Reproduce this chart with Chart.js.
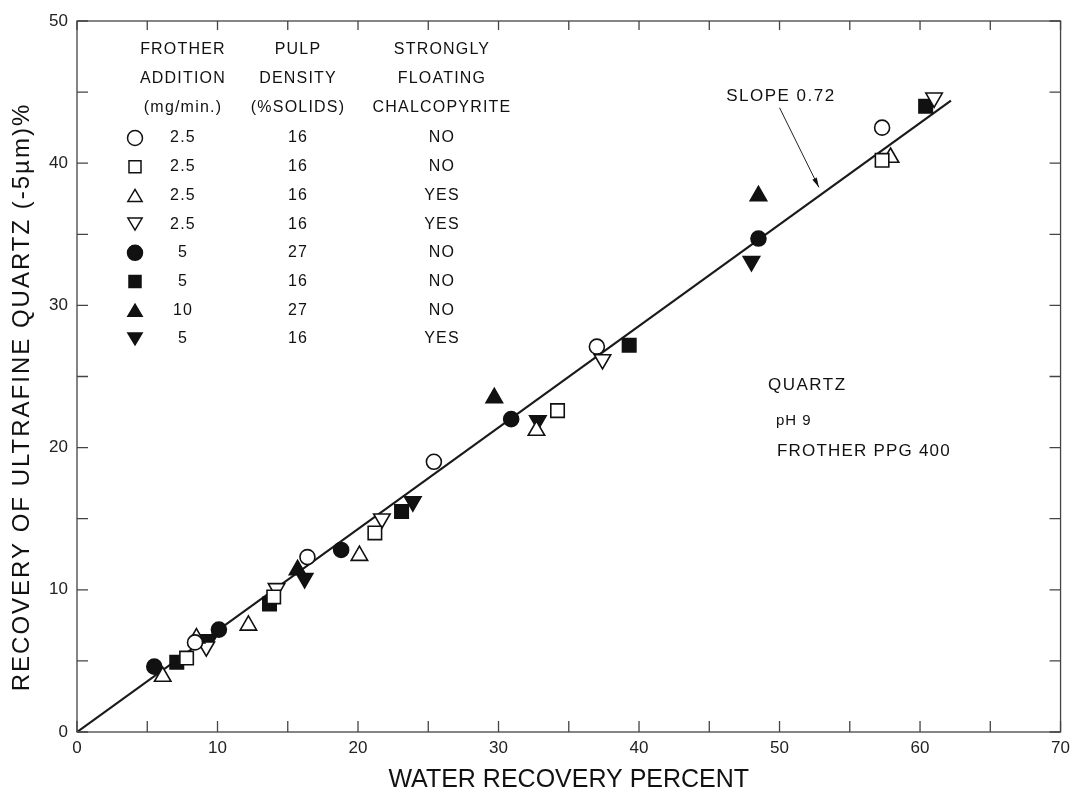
<!DOCTYPE html>
<html>
<head>
<meta charset="utf-8">
<script src="https://cdn.jsdelivr.net/npm/chart.js@4.4.1/dist/chart.umd.min.js"></script>
<style>
html, body { margin: 0; padding: 0; background: #fff; }
#wrap { width: 1076px; height: 795px; }
</style>
</head>
<body>
<div id="wrap"><canvas id="chart" width="1076" height="795"></canvas></div>
<script>
// Axis ranges
const xMin = 0, xMax = 70, yMin = 0, yMax = 50;
const tickStep = 5;

// Series (water recovery %, quartz recovery %)
const openCircleX = [8.4, 16.4, 25.4, 37.0, 57.3];
const openCircleY = [6.3, 12.3, 19.0, 27.1, 42.5];
const openSquareX = [7.8, 14.0, 21.2, 34.2, 57.3];
const openSquareY = [5.2, 9.5, 14.0, 22.6, 40.2];
const openTriUpX = [6.1, 8.5, 12.2, 20.1, 32.7, 57.9];
const openTriUpY = [3.9, 6.6, 7.5, 12.4, 21.2, 40.4];
const openTriDownX = [9.2, 14.2, 21.7, 37.4, 61.0];
const openTriDownY = [6.0, 10.1, 15.0, 26.2, 44.6];
const filledCircleX = [5.5, 10.1, 18.8, 30.9, 48.5];
const filledCircleY = [4.6, 7.2, 12.8, 22.0, 34.7];
const filledSquareX = [7.1, 13.7, 23.1, 39.3, 60.4];
const filledSquareY = [4.9, 9.0, 15.5, 27.2, 44.0];
const filledTriUpX = [15.7, 29.7, 48.5];
const filledTriUpY = [11.4, 23.5, 37.7];
const filledTriDownX = [9.4, 16.2, 23.9, 32.8, 48.0];
const filledTriDownY = [6.5, 10.8, 16.2, 21.9, 33.1];

// Fitted line end points
const fitX = [0, 62.2];
const fitY = [0, 44.4];

// Legend table
const legendFrother = ['2.5', '2.5', '2.5', '2.5', '5', '5', '10', '5'];
const legendPulp = ['16', '16', '16', '16', '27', '16', '27', '16'];
const legendChalco = ['NO', 'NO', 'YES', 'YES', 'NO', 'NO', 'NO', 'YES'];

const FONT = '"Liberation Sans", Arial, Helvetica, sans-serif';
const yTitle = 'RECOVERY OF ULTRAFINE QUARTZ (-5µm)%';

function pts(xs, ys) {
    return xs.map((x, i) => ({ x: x, y: ys[i] }));
}

// marker styles in the same order as the legend rows
const markers = [
    { style: 'circle', rot: 0, fill: '#fff', r: 7.5 },
    { style: 'rect', rot: 0, fill: '#fff', r: 9.5 },
    { style: 'triangle', rot: 0, fill: '#fff', r: 9.5 },
    { style: 'triangle', rot: 180, fill: '#fff', r: 9.5 },
    { style: 'circle', rot: 0, fill: '#111', r: 7.5 },
    { style: 'rect', rot: 0, fill: '#111', r: 9.5 },
    { style: 'triangle', rot: 0, fill: '#111', r: 9.5 },
    { style: 'triangle', rot: 180, fill: '#111', r: 9.5 }
];
const seriesData = [
    pts(openCircleX, openCircleY),
    pts(openSquareX, openSquareY),
    pts(openTriUpX, openTriUpY),
    pts(openTriDownX, openTriDownY),
    pts(filledCircleX, filledCircleY),
    pts(filledSquareX, filledSquareY),
    pts(filledTriUpX, filledTriUpY),
    pts(filledTriDownX, filledTriDownY)
];

const datasets = seriesData.map((d, i) => ({
    type: 'scatter',
    data: d,
    pointStyle: markers[i].style,
    rotation: markers[i].rot,
    pointRadius: markers[i].r,
    pointHoverRadius: markers[i].r,
    backgroundColor: markers[i].fill,
    borderColor: '#111',
    pointBorderWidth: 1.6,
    order: 1
}));

datasets.push({
    type: 'line',
    data: pts(fitX, fitY),
    borderColor: '#1a1a1a',
    borderWidth: 2.2,
    pointRadius: 0,
    fill: false,
    order: 10
});

// own marker drawing for the legend table
function drawMarker(ctx, m, x, y, r) {
    ctx.save();
    ctx.fillStyle = m.fill;
    ctx.strokeStyle = '#111';
    ctx.lineWidth = 1.5;
    ctx.beginPath();
    if (m.style === 'circle') {
        ctx.arc(x, y, r, 0, Math.PI * 2);
    } else if (m.style === 'rect') {
        const s = r * 0.8;
        ctx.rect(x - s, y - s, 2 * s, 2 * s);
    } else {
        const dir = m.rot ? -1 : 1;
        const h = r * 1.6;
        ctx.moveTo(x, y - dir * h / 2);
        ctx.lineTo(x + r * 0.95, y + dir * h / 2);
        ctx.lineTo(x - r * 0.95, y + dir * h / 2);
        ctx.closePath();
    }
    ctx.fill();
    ctx.stroke();
    ctx.restore();
}

// frame, inward ticks, notes and legend table
const decorations = {
    id: 'decorations',
    afterDraw(chart) {
        const ctx = chart.ctx;
        const a = chart.chartArea;
        const xs = chart.scales.x, ys = chart.scales.y;
        ctx.save();

        // frame
        ctx.strokeStyle = '#444';
        ctx.lineWidth = 1.3;
        ctx.strokeRect(a.left, a.top, a.right - a.left, a.bottom - a.top);

        // inward ticks
        ctx.beginPath();
        for (let v = xMin; v <= xMax; v += tickStep) {
            const px = xs.getPixelForValue(v);
            ctx.moveTo(px, a.bottom); ctx.lineTo(px, a.bottom - 11);
            ctx.moveTo(px, a.top); ctx.lineTo(px, a.top + 9);
        }
        for (let v = yMin; v <= yMax; v += tickStep) {
            const py = ys.getPixelForValue(v);
            ctx.moveTo(a.left, py); ctx.lineTo(a.left + 11, py);
            ctx.moveTo(a.right, py); ctx.lineTo(a.right - 11, py);
        }
        ctx.stroke();

        // y axis title
        ctx.fillStyle = '#111';
        ctx.save();
        ctx.translate(22, 397);
        ctx.rotate(-Math.PI / 2);
        ctx.font = '24px ' + FONT;
        ctx.letterSpacing = '2px';
        ctx.textAlign = 'center';
        ctx.textBaseline = 'middle';
        ctx.fillText(yTitle, 0, 0);
        ctx.restore();

        // slope note and arrow
        ctx.fillStyle = '#111';
        ctx.font = '17px ' + FONT;
        ctx.letterSpacing = '1.5px';
        ctx.textBaseline = 'middle';
        ctx.textAlign = 'left';
        ctx.fillText('SLOPE 0.72', xs.getPixelForValue(46.2), ys.getPixelForValue(44.7));

        const ax0 = xs.getPixelForValue(50.0), ay0 = ys.getPixelForValue(43.9);
        const ax1 = xs.getPixelForValue(52.8), ay1 = ys.getPixelForValue(38.3);
        ctx.strokeStyle = '#222';
        ctx.lineWidth = 1;
        ctx.beginPath();
        ctx.moveTo(ax0, ay0); ctx.lineTo(ax1, ay1);
        ctx.stroke();
        const ang = Math.atan2(ay1 - ay0, ax1 - ax0);
        ctx.beginPath();
        ctx.moveTo(ax1, ay1);
        ctx.lineTo(ax1 - 10 * Math.cos(ang - 0.25), ay1 - 10 * Math.sin(ang - 0.25));
        ctx.lineTo(ax1 - 10 * Math.cos(ang + 0.25), ay1 - 10 * Math.sin(ang + 0.25));
        ctx.closePath();
        ctx.fill();

        // conditions note
        ctx.font = '17px ' + FONT;
        ctx.letterSpacing = '1.5px';
        ctx.fillText('QUARTZ', a.left + 691, a.top + 364);
        ctx.font = '15px ' + FONT;
        ctx.letterSpacing = '1px';
        ctx.fillText('pH 9', a.left + 699, a.top + 400);
        ctx.font = '17px ' + FONT;
        ctx.letterSpacing = '1.2px';
        ctx.fillText('FROTHER PPG 400', a.left + 700, a.top + 430);

        // legend table
        const c1 = a.left + 106, c2 = a.left + 221, c3 = a.left + 365, cs = a.left + 58;
        ctx.textAlign = 'center';
        ctx.font = '16px ' + FONT;
        ctx.letterSpacing = '1.2px';
        const heads = [['FROTHER', 'PULP', 'STRONGLY'],
                       ['ADDITION', 'DENSITY', 'FLOATING'],
                       ['(mg/min.)', '(%SOLIDS)', 'CHALCOPYRITE']];
        heads.forEach((h, i) => {
            const y = a.top + 29 + i * 29;
            ctx.fillText(h[0], c1, y);
            ctx.fillText(h[1], c2, y);
            ctx.fillText(h[2], c3, y);
        });
        for (let i = 0; i < legendFrother.length; i++) {
            const y = a.top + 117 + i * 28.7;
            drawMarker(ctx, markers[i], cs, y, 7.5);
            ctx.fillStyle = '#111';
            ctx.fillText(legendFrother[i], c1, y);
            ctx.fillText(legendPulp[i], c2, y);
            ctx.fillText(legendChalco[i], c3, y);
        }
        ctx.restore();
    }
};

new Chart(document.getElementById('chart'), {
    data: { datasets: datasets },
    options: {
        responsive: false,
        animation: false,
        layout: { padding: { left: 0, right: 14, top: 21, bottom: 0 } },
        plugins: { legend: { display: false }, tooltip: { enabled: false } },
        scales: {
            x: {
                type: 'linear',
                min: xMin, max: xMax,
                afterFit: (s) => { s.height = 63; },
                grid: { display: false, drawTicks: false },
                border: { display: false },
                ticks: {
                    stepSize: tickStep,
                    autoSkip: false,
                    maxRotation: 0,
                    padding: 6,
                    color: '#222',
                    font: { family: FONT, size: 17 },
                    callback: (v) => (v % 10 === 0 ? v : '')
                },
                title: {
                    display: true,
                    text: 'WATER RECOVERY PERCENT',
                    color: '#111',
                    font: { family: FONT, size: 25 },
                    padding: { top: 0, bottom: 0 }
                }
            },
            y: {
                type: 'linear',
                min: yMin, max: yMax,
                afterFit: (s) => { s.width = 77; },
                grid: { display: false, drawTicks: false },
                border: { display: false },
                ticks: {
                    stepSize: tickStep,
                    autoSkip: false,
                    padding: 9,
                    color: '#222',
                    font: { family: FONT, size: 17 },
                    callback: (v) => (v % 10 === 0 ? v : '')
                },
                title: { display: false }
            }
        }
    },
    plugins: [decorations]
});
</script>
</body>
</html>
